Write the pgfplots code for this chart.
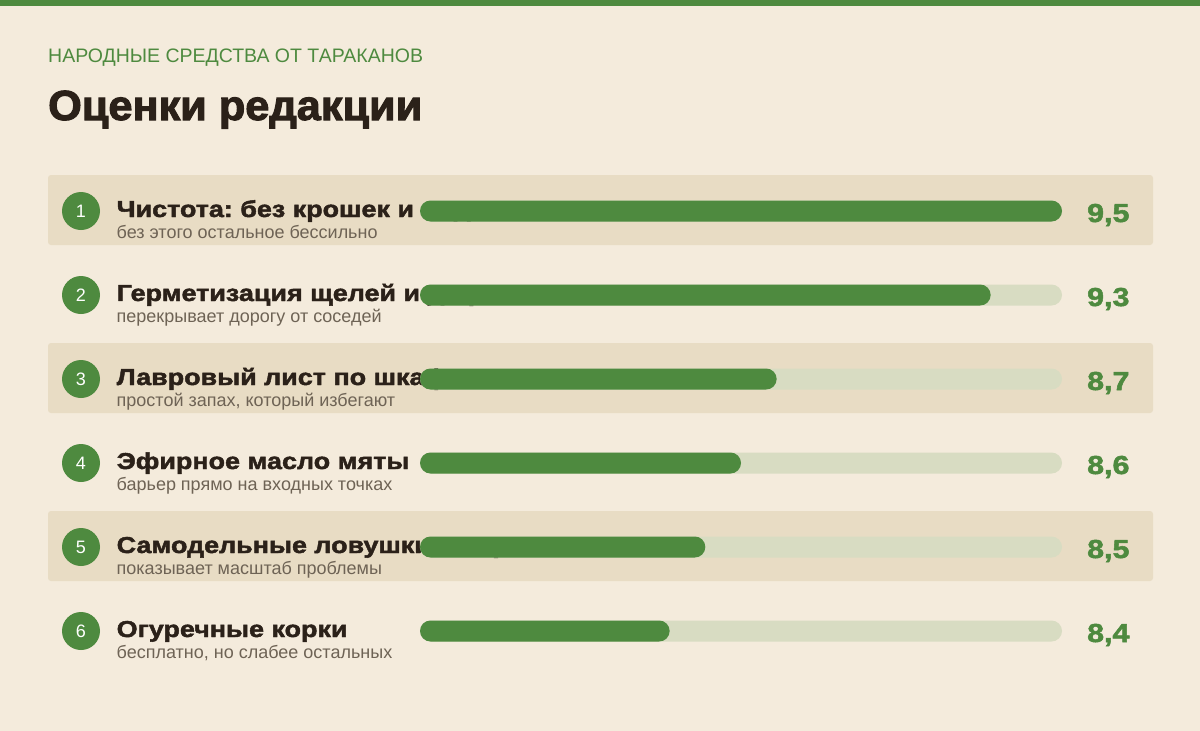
\documentclass[border=0pt]{standalone}
\usepackage{pgfplots}
\pgfplotsset{compat=1.18}
\usepackage{pgfplotstable}
\usepackage{fontspec}
\setmainfont{Liberation Sans}
\newfontfamily\heavy[FakeBold=2, FakeStretch=1.17]{Liberation Sans Bold}
\newfontfamily\titlef[FakeBold=2.5, FakeStretch=1.03]{Liberation Sans Bold}
\frenchspacing
\definecolor{bg}{HTML}{F4EBDC}
\definecolor{band}{HTML}{E8DCC4}
\definecolor{grn}{HTML}{4E8A3F}
\definecolor{trk}{HTML}{D8DCC2}
\definecolor{ink}{HTML}{2B2119}
\definecolor{subc}{HTML}{6E6355}
\newcommand\lbl[2]{\rlap{\raisebox{-6pt}{\heavy\fontsize{23}{23}\selectfont\color{ink}#1}}\rlap{\raisebox{-27pt}{\fontsize{18}{18}\selectfont\color{subc}#2}}}
\pgfplotstableread{
r v
1 9.5
2 9.3
3 8.7
4 8.6
5 8.5
6 8.4
}\data
\pgfplotsset{rowaxis/.style={
  at={(420pt,-169pt)}, anchor=north west,
  scale only axis, width=642pt, height=504pt,
  xmin=0, xmax=1.8, ymin=0.5, ymax=6.5, y dir=reverse,
  axis line style={draw=none}, tick style={draw=none}, clip=false,
  ytick={1,...,6}, xtick=\empty, major tick length=0pt}}
\begin{document}
\begin{tikzpicture}
\fill[bg] (0pt,0pt) rectangle (1200pt,-731pt);
\useasboundingbox (0pt,0pt) rectangle (1200pt,-731pt);
\fill[grn] (0pt,0pt) rectangle (1200pt,-6pt);
\node[anchor=base west, inner sep=0pt, text=grn, font=\fontsize{19.5}{19.5}\selectfont] at (48pt,-62pt) {НАРОДНЫЕ СРЕДСТВА ОТ ТАРАКАНОВ};
\node[anchor=base west, inner sep=0pt, text=ink, font=\titlef\fontsize{42}{42}\selectfont] at (48pt,-120pt) {Оценки редакции};
\foreach \c in {211,379,547}{
  \fill[band, rounded corners=3pt] (48pt,-\c pt+36pt) rectangle (1153pt,-\c pt-34pt);
}
\foreach \i in {1,...,6}{
  \pgfmathsetmacro\c{211+84*(\i-1)}
  \fill[grn] (81pt,-\c pt) circle (19pt);
  \node[text=white, font=\fontsize{18}{18}\selectfont, inner sep=0pt] at (81pt,-\c pt) {\i};
}
% labels (drawn first, so the bars cover them)
\begin{axis}[rowaxis,
  yticklabels={
    {\lbl{Чистота: без крошек и воды}{без этого остальное бессильно}},
    {\lbl{Герметизация щелей и дыр}{перекрывает дорогу от соседей}},
    {\lbl{Лавровый лист по шкафам}{простой запах, который избегают}},
    {\lbl{Эфирное масло мяты}{барьер прямо на входных точках}},
    {\lbl{Самодельные ловушки с сиропом}{показывает масштаб проблемы}},
    {\lbl{Огуречные корки}{бесплатно, но слабее остальных}}},
  yticklabel style={anchor=base west, inner sep=0pt, xshift=-304pt},
]
\end{axis}
% bars and values
\begin{axis}[rowaxis, yticklabels={}]
\addplot[xbar, bar width=21pt, bar shift=0pt, fill=trk, draw=none, rounded corners=10.5pt] table[x expr=1.8, y=r]{\data};
\addplot[xbar, bar width=21pt, bar shift=0pt, fill=grn, draw=none, rounded corners=10.5pt] table[x expr=\thisrow{v}-7.7, y=r]{\data};
\addplot[draw=none, mark=none, point meta=explicit,
  nodes near coords={\pgfmathprintnumber[fixed,fixed zerofill,precision=1,use comma,assume math mode=true]{\pgfplotspointmeta}},
  every node near coord/.append style={anchor=base west, inner sep=0pt, text=grn, font=\heavy\fontsize{26}{26}\selectfont, yshift=-11pt}]
  table[x expr=1.87, y=r, meta=v]{\data};
\end{axis}
\end{tikzpicture}
\end{document}
